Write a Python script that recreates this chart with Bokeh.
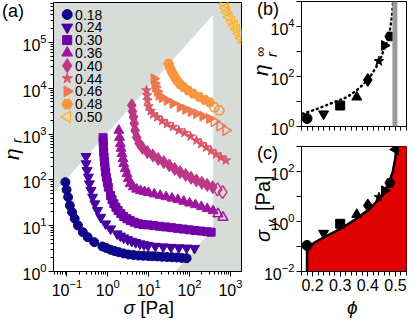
import math
from bokeh.plotting import figure
from bokeh.models import (FixedTicker, BoxAnnotation, ColumnDataSource, Range1d,
                          LinearScale, Div)
from bokeh.core.properties import value
from bokeh.layouts import row, column
from bokeh.embed import file_html
from bokeh.resources import INLINE

FONT = "Liberation Sans"

# ---------------- data ----------------
phi_labels = ["0.18", "0.24", "0.30", "0.36", "0.40", "0.44", "0.46", "0.48", "0.50"]
colors = ["#0d0887", "#46039f", "#7201a8", "#9c179e", "#bd3786",
          "#d8576b", "#ed7953", "#f89540", "#fcb42a"]

sigma_018 = [0.092, 0.098, 0.107, 0.118, 0.134, 0.155, 0.186, 0.245, 0.323, 0.467,
             0.738, 0.92, 1.17, 1.47, 1.85, 2.44, 3.22, 4.24, 5.59, 7.36,
             9.70, 12.3, 16.2, 21.3, 28.1, 37.0, 48.8, 64.3, 84.7]
eta_018 = [89.1, 60.8, 41.9, 27.6, 19.7, 14.2, 10.1, 7.21, 5.61, 4.37,
           3.52, 3.25, 2.98, 2.80, 2.64, 2.48, 2.35, 2.29, 2.23, 2.20,
           2.18, 2.15, 2.13, 2.10, 2.07, 2.04, 2.02, 1.98, 1.95]

sigma_024 = [0.294, 0.294, 0.311, 0.336, 0.355, 0.388, 0.425, 0.483, 0.561, 0.673,
             0.886, 1.17, 1.69, 2.03, 2.44, 3.06, 3.86, 4.82, 6.10, 7.69,
             9.70, 14.5, 22.6, 35.1, 54.5, 84.7, 132]
eta_024 = [324, 225, 160, 115, 82.2, 58.7, 41.9, 30.1, 21.5, 15.3,
           11.0, 8.55, 6.65, 5.95, 5.44, 4.98, 4.59, 4.30, 4.03, 3.85,
           3.70, 3.57, 3.46, 3.38, 3.31, 3.26, 3.21]

sigma_030 = [0.767, 0.772, 0.780, 0.793, 0.811, 0.834, 0.857, 0.886, 0.921, 0.973,
             1.028, 1.167, 1.268, 1.408, 1.580, 1.784, 2.083, 2.443, 2.931, 3.516,
             4.432, 5.587, 7.28, 9.60, 13.36, 18.6, 25.9, 36.0, 50.2, 69.8,
             97.3, 135.5, 188.5, 262, 336]
eta_030 = [830, 656, 518, 403, 313, 243, 189, 147, 115, 89.1,
           69.3, 45.6, 37.3, 30.1, 25.2, 21.5, 18.3, 15.9, 14.2, 13.0,
           11.9, 11.0, 10.6, 10.4, 10.05, 9.70, 9.37, 9.04, 8.73, 8.43,
           8.13, 7.85, 7.62, 7.39, 7.21]

sigma_036 = [1.855, 1.938, 2.026, 2.106, 2.225, 2.351, 2.443, 2.669, 2.931, 3.184,
             3.516, 4.196, 5.088, 6.345, 7.912, 9.863, 13.73, 19.11, 26.62, 37.06,
             51.60, 71.83, 100.0, 139.2, 193.8, 269.9, 375.7]
eta_036 = [1199, 843, 614, 485, 371.5, 288.9, 224.6, 174.8, 135.9, 105.7,
           82.2, 70.0, 62.3, 57.8, 55.0, 52.6, 49.0, 45.6, 42.5, 39.7,
           36.8, 33.9, 31.1, 28.5, 25.9, 23.4, 21.1]
sigma_036_open = [495, 652]
eta_036_open = [18.0, 15.1]

sigma_040 = [3.863, 4.015, 4.243, 4.434, 4.633, 5.088, 5.842, 7.085, 9.333, 12.64,
             17.12, 23.45, 31.93, 43.25, 58.58, 80.22, 108.6, 147.1, 199.3, 269.9, 369.6]
eta_040 = [4212, 3114, 2339, 1704, 1199, 843, 623, 497, 402.5, 341,
           286, 243.5, 206.3, 173, 147.3, 128, 111.1, 97.0, 86.4, 77.4, 69.3]
sigma_040_open = [481.6, 641.6]
eta_040_open = [61.7, 53.9]

sigma_044 = [8.834, 9.081, 9.333, 9.863, 11.20, 12.99, 16.20, 21.35, 28.12, 39.15,
             54.51, 75.89, 105.7, 147.1, 193.8, 255.4, 336.5, 443.4, 584.2, 769.6]
eta_044 = [8954, 6964, 5415, 4005, 3194, 2679, 2304, 1932, 1662, 1429,
           1199, 1057, 886.4, 724.8, 608, 510, 427.6, 358.5, 308.4, 265.2]

sigma_046 = [13.50, 14.11, 14.75, 16.20, 17.80, 21.35, 28.12, 39.15, 58.58, 80.22,
             108.6, 147.1, 210.6, 306.4]
eta_046 = [16123, 12730, 10568, 8513, 6964, 6140, 5415, 4658, 3867, 3444,
           3068, 2775, 2447, 2159]
sigma_046_open = [397.0, 552.7, 769.6]
eta_046_open = [1884, 1503, 1199]

sigma_048 = [30.89, 33.19, 37.06, 42.54, 48.84, 57.61, 70.65, 92.06, 122.6, 173.6,
             235.1, 309.7]
eta_048 = [34259, 27752, 22463, 18093, 14806, 12414, 10568, 8954, 7585, 6457,
           5553, 4898]
sigma_048_open = [403.6, 531.8]
eta_048_open = [3867, 3276]

sigma_050_open = [700.8, 748.6, 813.3, 923.2, 1060, 1216, 1396, 1603, 1809, 2077]
eta_050_open = [699800, 566600, 463400, 356800, 287400, 235100, 192200, 154900,
                125400, 102500]

window_sigma = [1e-3, 1e-3, 376, 376, 4.4]
window_eta = [0.1, 1.07, 4.02e5, 8.55, 0.1]

phi_b = [0.18, 0.24, 0.30, 0.36, 0.40, 0.44, 0.46, 0.48]
eta_inf = [2.1, 3.2, 6.9, 15, 73, 410, 1740, 4000]
phi_fit_b = [0.164, 0.218, 0.277, 0.324, 0.359, 0.383, 0.407, 0.430, 0.448, 0.466,
             0.478, 0.487, 0.492]
eta_fit_b = [3.24, 5.13, 9.33, 14.8, 27.5, 47.9, 93.3, 234, 589, 2042,
             5129, 23442, 109600]
phi_jam_band = [0.489, 0.507]

phi_c = [0.18, 0.24, 0.30, 0.36, 0.40, 0.44, 0.46, 0.48, 0.50]
sigma_y = [0.11, 0.34, 0.81, 1.9, 4.4, 9.4, 17, 35, 760]
phi_fit_c = [0.18, 0.18, 0.188, 0.206, 0.241, 0.301, 0.359, 0.407, 0.442, 0.472,
             0.490, 0.499, 0.505, 0.508]
sigy_fit_c = [0.005, 0.059, 0.093, 0.141, 0.234, 0.513, 1.29, 3.24, 8.13, 27.5,
              93.3, 324, 1096, 2500]
phi_fill_edge = 0.6

# ---------------- styling helpers ----------------
def style_axes(p, fs="16px"):
    for ax in p.axis:
        ax.axis_line_color = "black"
        ax.major_tick_line_color = "black"
        ax.minor_tick_line_color = "black"
        ax.major_tick_in = 0
        ax.major_tick_out = 5
        ax.minor_tick_in = 0
        ax.minor_tick_out = 3
        ax.major_label_text_font = FONT
        ax.major_label_text_font_size = fs
        ax.major_label_text_color = "black"
        ax.major_label_standoff = 2
    p.grid.visible = False


def free_text(html, left, top, fs, italic=False, rotate=False):
    st = {"position": "absolute", "left": f"{left}px", "top": f"{top}px",
          "font-family": FONT, "font-size": f"{fs}px", "line-height": "1",
          "white-space": "nowrap", "color": "black", "z-index": "5",
          "padding": "0px", "margin": "0px"}
    if italic:
        st["font-style"] = "italic"
    if rotate:
        st["transform"] = "rotate(-90deg)"
        st["transform-origin"] = "0px 0px"
    return Div(text=html, styles=st, margin=0)


def decade_minors(e0, e1):
    return [m * 10.0 ** e for e in range(e0, e1) for m in range(2, 10)]

# ---------------- panel (a) ----------------
A_LEFT, A_FW, A_TOP, A_FH = 53, 188, 2, 269
p_a = figure(width=253, height=320, x_axis_type="log", y_axis_type="log",
             x_range=(0.047, 1860), y_range=(1, 7.4e5),
             output_backend="svg", toolbar_location=None,
             min_border_left=A_LEFT, min_border_right=253 - A_LEFT - A_FW,
             min_border_top=A_TOP, min_border_bottom=320 - A_TOP - A_FH,
             background_fill_color="#d8dcd8", border_fill_color="white",
             outline_line_color="black", outline_line_width=1)
p_a.extra_x_ranges = {"px": Range1d(0, A_FW)}
p_a.extra_y_ranges = {"py": Range1d(A_FH, 0)}
p_a.extra_x_scales = {"px": LinearScale()}
p_a.extra_y_scales = {"py": LinearScale()}

p_a.patch(window_sigma, window_eta, fill_color="white", line_color=None)

p_a.xaxis.ticker = FixedTicker(ticks=[0.1, 1, 10, 100, 1000], minor_ticks=decade_minors(-2, 4))
p_a.yaxis.ticker = FixedTicker(ticks=[1, 10, 100, 1e3, 1e4, 1e5], minor_ticks=decade_minors(0, 6))
style_axes(p_a)

series = [
    (sigma_018, eta_018, None, None, "circle", 9, 0.0),
    (sigma_024, eta_024, None, None, "inverted_triangle", 10, 0.0),
    (sigma_030, eta_030, None, None, "square", 8, 0.0),
    (sigma_036, eta_036, sigma_036_open, eta_036_open, "triangle", 10, 0.0),
    (sigma_040, eta_040, sigma_040_open, eta_040_open, "diamond", 13, 0.0),
    (sigma_044, eta_044, None, None, "star", 10, 0.0),
    (sigma_046, eta_046, sigma_046_open, eta_046_open, "triangle", 10, -math.pi / 2),
    (sigma_048, eta_048, sigma_048_open, eta_048_open, "hex", 10, 0.0),
    (None, None, sigma_050_open, eta_050_open, "triangle", 10, math.pi / 2),
]
legend_sizes = [10, 11, 9, 11, 14, 11, 11, 11, 11]
LEG_X, LEG_TX, LEG_Y0, LEG_DY = 13.7, 21.6, 12.0, 12.8

for i, (sx, sy, ox, oy, mk, sz, ang) in enumerate(series):
    if sx is not None:
        p_a.scatter(sx, sy, marker=mk, size=sz, angle=ang, fill_color=colors[i],
                    line_color=colors[i], line_width=1)
    if ox is not None:
        p_a.scatter(ox, oy, marker=mk, size=sz, angle=ang, fill_alpha=0,
                    line_color=colors[i], line_width=1.5)
    is_open = sx is None
    p_a.scatter([LEG_X], [LEG_Y0 + LEG_DY * i], marker=mk, size=legend_sizes[i], angle=ang,
                fill_color=colors[i], fill_alpha=0 if is_open else 1,
                line_color=colors[i], line_width=1.5 if is_open else 1,
                x_range_name="px", y_range_name="py")

p_a.text(x=[LEG_TX] * 9, y=[LEG_Y0 + LEG_DY * i for i in range(9)], text=phi_labels,
         text_font=value(FONT), text_font_size="14px", text_baseline="middle",
         text_align="left", text_color="black", x_range_name="px", y_range_name="py")

# ---------------- panel (b) ----------------
B_LEFT, B_FW = 48, 105
p_b = figure(width=154, height=146, y_axis_type="log",
             x_range=(0.16, 0.54), y_range=(1, 1e5),
             output_backend="svg", toolbar_location=None,
             min_border_left=B_LEFT, min_border_right=154 - B_LEFT - B_FW,
             min_border_top=1, min_border_bottom=20,
             background_fill_color="white", outline_line_color="black")
p_b.add_layout(BoxAnnotation(left=phi_jam_band[0], right=phi_jam_band[1],
                             fill_color="#9a9a9a", fill_alpha=1, line_color=None))
p_b.line(phi_fit_b, eta_fit_b, line_color="black", line_width=2.5, line_dash="1 4",
         line_cap="round")
markers_b = ["circle", "inverted_triangle", "square", "triangle", "diamond", "star",
             "triangle", "hex"]
angles_b = [0, 0, 0, 0, 0, 0, -math.pi / 2, 0]
sizes_b = [10, 10, 9, 10, 13, 10, 10, 10]
src_b = ColumnDataSource(dict(x=phi_b, y=eta_inf, m=markers_b, a=angles_b, s=sizes_b))
p_b.scatter("x", "y", marker="m", angle="a", size="s", source=src_b,
            fill_color="black", line_color="black")

phi_minor = [round(0.16 + 0.02 * k, 2) for k in range(20)]
p_b.xaxis.ticker = FixedTicker(ticks=[], minor_ticks=phi_minor)
p_b.yaxis.ticker = FixedTicker(ticks=[1, 100, 1e4], minor_ticks=[10, 1000, 1e5])
style_axes(p_b)
p_b.yaxis.minor_tick_out = 5
p_b.xaxis.minor_tick_out = 4

# ---------------- panel (c) ----------------
p_c = figure(width=154, height=174, y_axis_type="log",
             x_range=(0.16, 0.54), y_range=(0.01, 1000),
             output_backend="svg", toolbar_location=None,
             min_border_left=B_LEFT, min_border_right=154 - B_LEFT - B_FW,
             min_border_top=0, min_border_bottom=49,
             background_fill_color="white", outline_line_color="black")
p_c.harea(y=sigy_fit_c, x1=phi_fit_c, x2=[phi_fill_edge] * len(phi_fit_c),
          fill_color="#e10000")
p_c.line(phi_fit_c, sigy_fit_c, line_color="black", line_width=2.5)
markers_c = markers_b + ["triangle"]
angles_c = angles_b + [math.pi / 2]
sizes_c = sizes_b + [10]
src_c = ColumnDataSource(dict(x=phi_c, y=sigma_y, m=markers_c, a=angles_c, s=sizes_c))
p_c.scatter("x", "y", marker="m", angle="a", size="s", source=src_c,
            fill_color="black", line_color="black")

p_c.xaxis.ticker = FixedTicker(ticks=[0.2, 0.3, 0.4, 0.5],
                               minor_ticks=[v for v in phi_minor if round(v * 10, 6) % 1 != 0])
p_c.yaxis.ticker = FixedTicker(ticks=[0.01, 1, 100], minor_ticks=[0.1, 10, 1000])
style_axes(p_c)
p_c.yaxis.minor_tick_out = 5
p_c.xaxis.minor_tick_out = 4

# ---------------- free texts (panel letters and axis titles) ----------------
texts = [
    free_text("(a)", 2, 2, 18),
    free_text("(b)", 257, 0, 18),
    free_text("(c)", 257, 144, 18),
    # panel (a) axis titles
    free_text("η", 1, 160, 21, italic=True, rotate=True),
    free_text("r", 10, 143, 14, italic=True, rotate=True),
    free_text("<i>σ</i> [Pa]", 123.6, 298, 19),
    # panel (b) axis title
    free_text("η", 250.4, 76, 21, italic=True, rotate=True),
    free_text("r", 264.5, 57, 14, italic=True, rotate=True),
    free_text("∞", 253.3, 57, 14, rotate=True),
    # panel (c) axis titles
    free_text("σ", 253.2, 242, 20, italic=True, rotate=True),
    free_text("y", 265, 227, 14, italic=True, rotate=True),
    free_text("[Pa]", 253.2, 211, 20, rotate=True),
    free_text("ϕ", 347, 298, 19, italic=True),
]

layout = row(p_a, column(p_b, p_c), *texts)
open("out.html", "w").write(file_html(layout, INLINE))
